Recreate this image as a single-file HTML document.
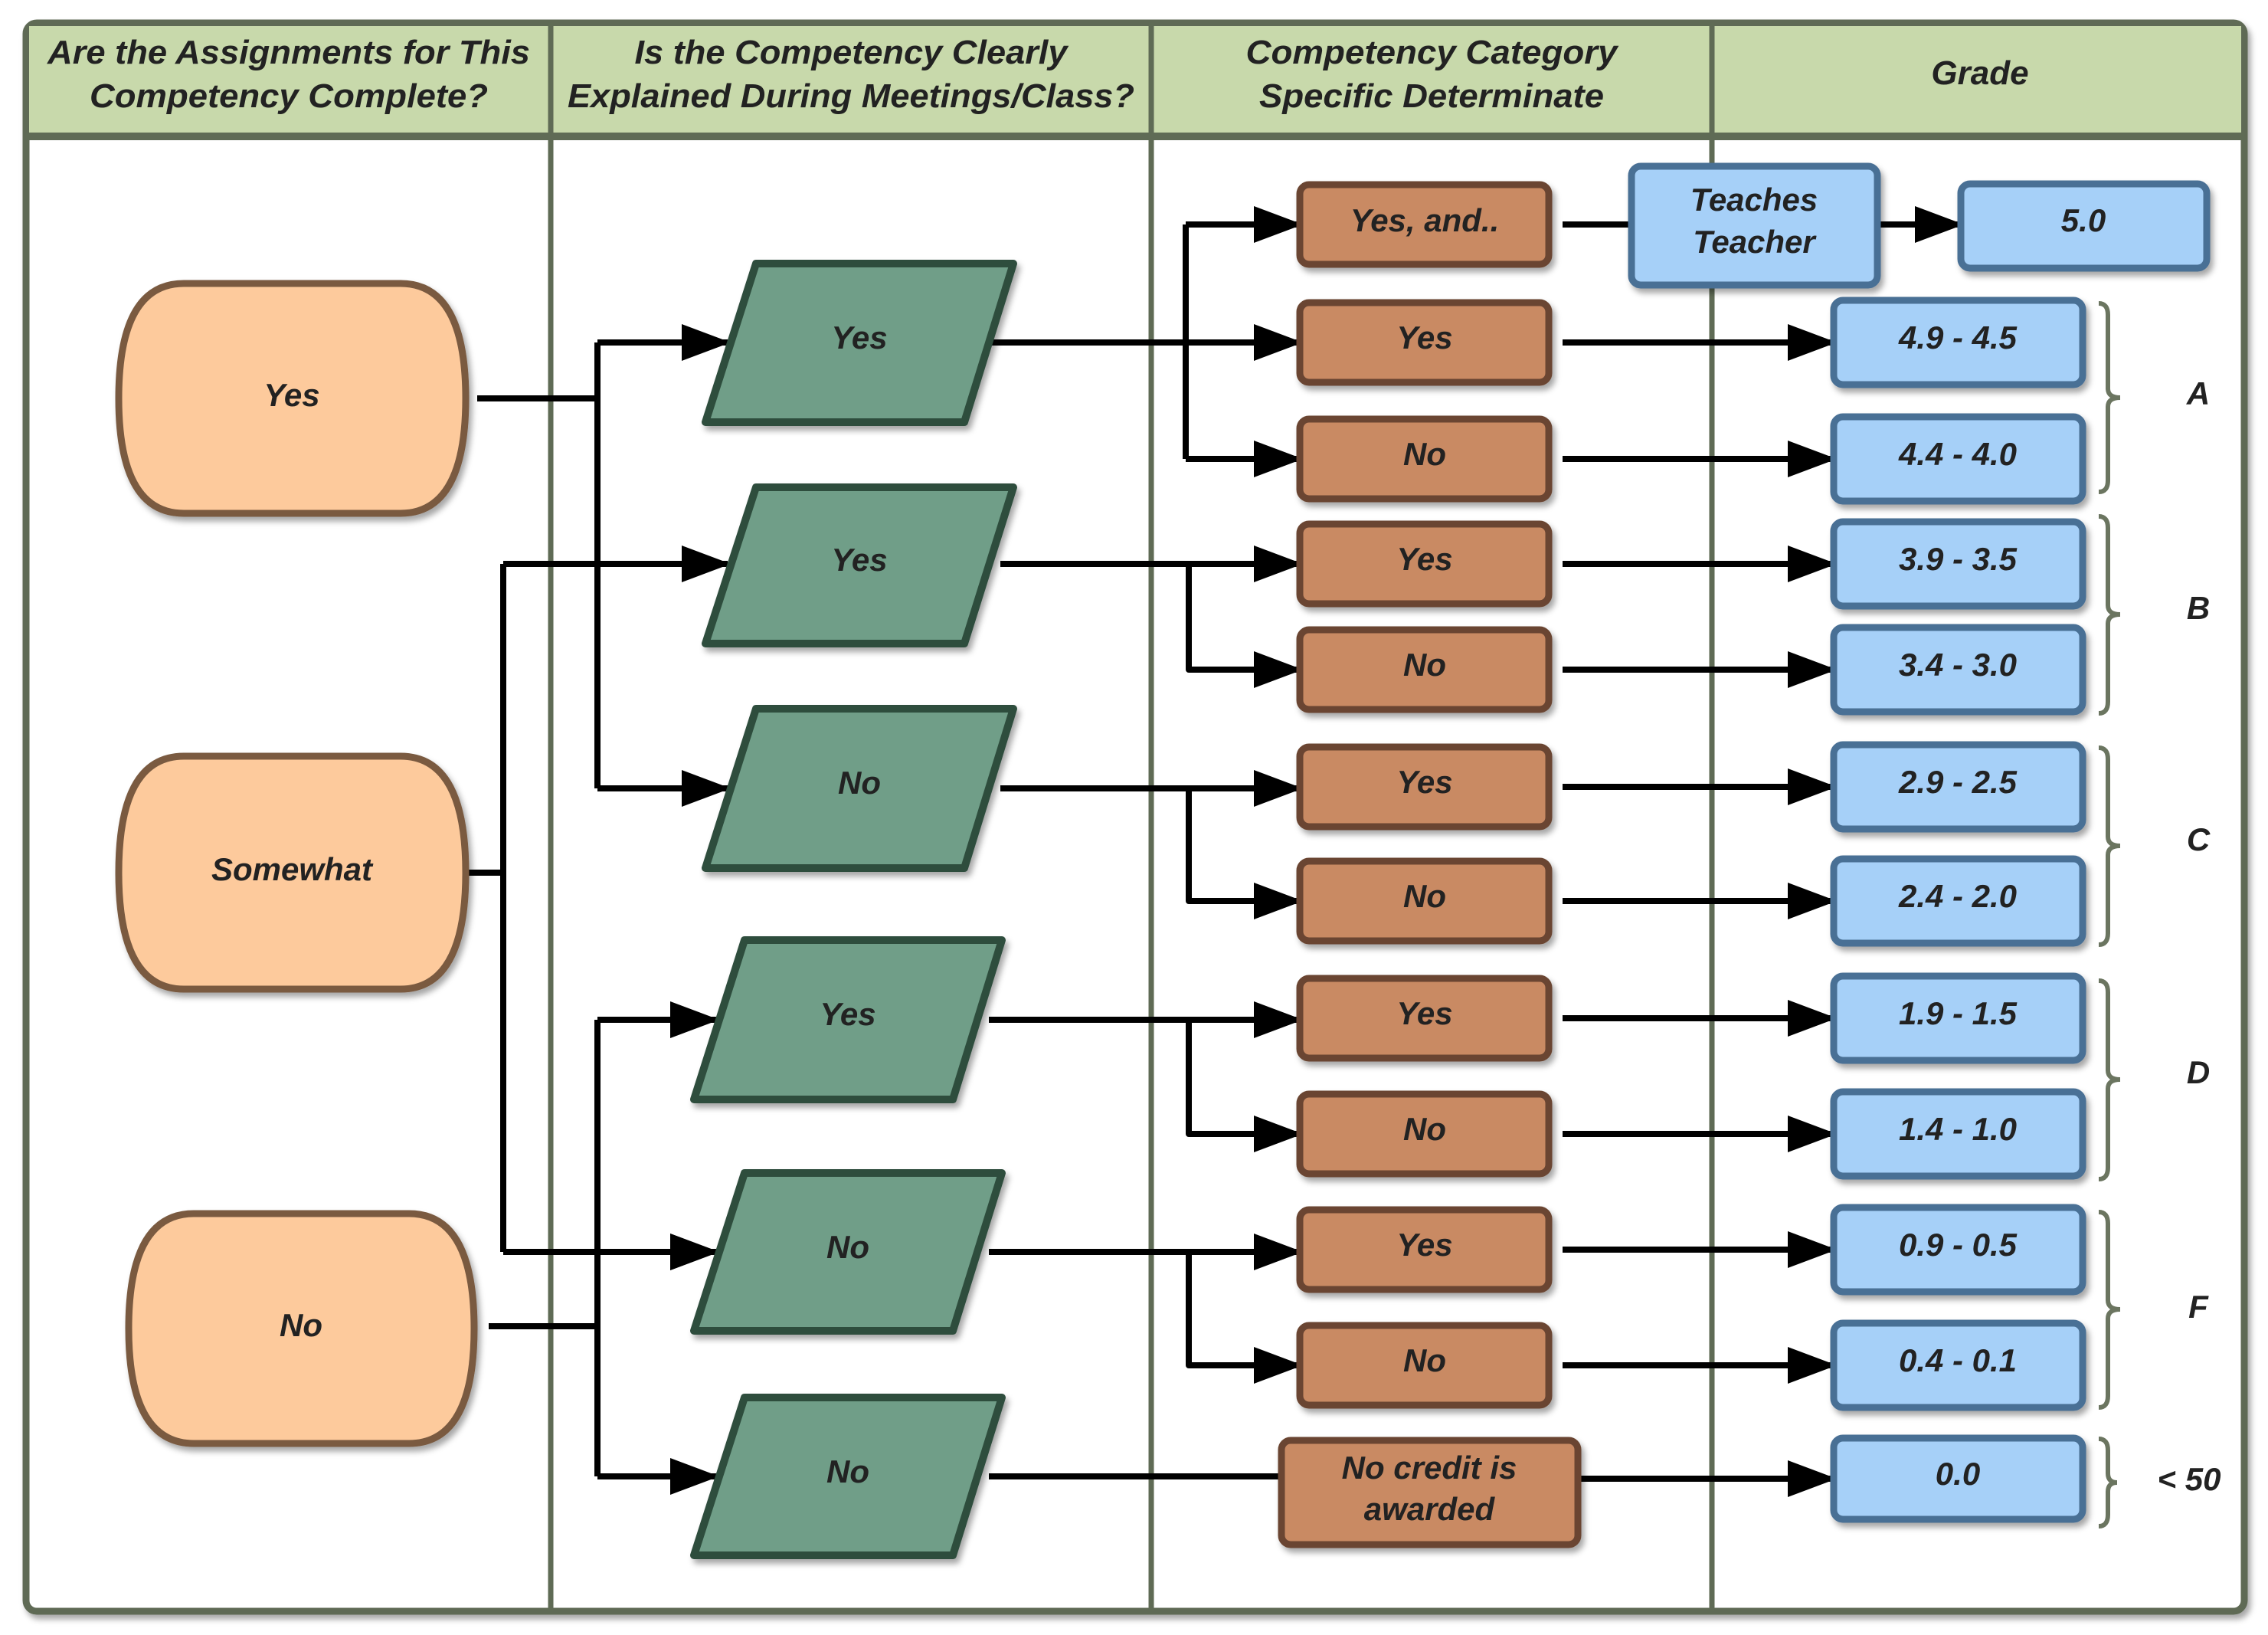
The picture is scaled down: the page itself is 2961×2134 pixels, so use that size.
<!DOCTYPE html>
<html><head><meta charset="utf-8"><style>
html,body{margin:0;padding:0;background:#fff;}
svg{display:block;}
text{font-family:"Liberation Sans",sans-serif;font-weight:bold;font-style:italic;fill:#222;}
</style></head><body>
<svg width="2961" height="2134" viewBox="0 0 2961 2134" xmlns="http://www.w3.org/2000/svg">
<defs>
<marker id="ah" markerWidth="8" markerHeight="6" refX="7.5" refY="3" orient="auto" markerUnits="strokeWidth">
<path d="M0,0 L8,3 L0,6 Z" fill="#000"/></marker>
<filter id="sh" x="-10%" y="-10%" width="130%" height="130%"><feDropShadow dx="4" dy="6" stdDeviation="4" flood-color="#000" flood-opacity="0.35"/></filter>
</defs>
<!-- frame -->
<rect x="34" y="30" width="2896" height="2073" rx="14" fill="#fff" stroke="#5f6b55" stroke-width="9" filter="url(#sh)"/>
<rect x="38" y="34" width="2888" height="142" fill="#c8d9ab"/>
<line x1="34" y1="178" x2="2930" y2="178" stroke="#5f6b55" stroke-width="10"/>
<line x1="719" y1="30" x2="719" y2="2103" stroke="#5f6b55" stroke-width="7"/>
<line x1="1503" y1="30" x2="1503" y2="2103" stroke="#5f6b55" stroke-width="7"/>
<line x1="2235" y1="30" x2="2235" y2="2103" stroke="#5f6b55" stroke-width="7"/>
<!-- headers -->
<g font-size="44" text-anchor="middle" style="fill:#333">
<text x="377" y="83" textLength="630" lengthAdjust="spacingAndGlyphs">Are the Assignments for This</text>
<text x="377" y="140" textLength="520" lengthAdjust="spacingAndGlyphs">Competency Complete?</text>
<text x="1111" y="83" textLength="565" lengthAdjust="spacingAndGlyphs">Is the Competency Clearly</text>
<text x="1111" y="140" textLength="740" lengthAdjust="spacingAndGlyphs">Explained During Meetings/Class?</text>
<text x="1869" y="83" textLength="485" lengthAdjust="spacingAndGlyphs">Competency Category</text>
<text x="1869" y="140" textLength="450" lengthAdjust="spacingAndGlyphs">Specific Determinate</text>
<text x="2585" y="110">Grade</text>
</g>
<!-- connectors -->
<g stroke="#000" stroke-width="8" fill="none" stroke-linejoin="round">
<path d="M623,520 H780"/><path d="M780,447 V1029"/>
<path d="M780,447 H950" marker-end="url(#ah)"/>
<path d="M657,736 H950" marker-end="url(#ah)"/>
<path d="M780,1029 H950" marker-end="url(#ah)"/>
<path d="M608,1139 H657"/><path d="M657,736 V1634"/>
<path d="M657,1634 H935" marker-end="url(#ah)"/>
<path d="M638,1731 H780"/><path d="M780,1331 V1927"/>
<path d="M780,1331 H935" marker-end="url(#ah)"/>
<path d="M780,1634 H935" marker-end="url(#ah)"/>
<path d="M780,1927 H935" marker-end="url(#ah)"/>
<path d="M1291,447 H1548"/><path d="M1548,293 V599"/>
<path d="M1548,293 H1697" marker-end="url(#ah)"/>
<path d="M1548,447 H1697" marker-end="url(#ah)"/>
<path d="M1548,599 H1697" marker-end="url(#ah)"/>
<path d="M1306,736 H1697" marker-end="url(#ah)"/><path d="M1552,736 V874 H1697" marker-end="url(#ah)"/>
<path d="M1306,1029 H1697" marker-end="url(#ah)"/><path d="M1552,1029 V1176 H1697" marker-end="url(#ah)"/>
<path d="M1291,1331 H1697" marker-end="url(#ah)"/><path d="M1552,1331 V1480 H1697" marker-end="url(#ah)"/>
<path d="M1291,1634 H1697" marker-end="url(#ah)"/><path d="M1552,1634 V1782 H1697" marker-end="url(#ah)"/>
<path d="M1291,1927 H1673"/>
<path d="M2040,293 H2130"/>
<path d="M2453,293 H2560" marker-end="url(#ah)"/>
<path d="M2040,447 H2394" marker-end="url(#ah)"/>
<path d="M2040,599 H2394" marker-end="url(#ah)"/>
<path d="M2040,736 H2394" marker-end="url(#ah)"/>
<path d="M2040,874 H2394" marker-end="url(#ah)"/>
<path d="M2040,1027 H2394" marker-end="url(#ah)"/>
<path d="M2040,1176 H2394" marker-end="url(#ah)"/>
<path d="M2040,1329 H2394" marker-end="url(#ah)"/>
<path d="M2040,1480 H2394" marker-end="url(#ah)"/>
<path d="M2040,1631 H2394" marker-end="url(#ah)"/>
<path d="M2040,1782 H2394" marker-end="url(#ah)"/>
<path d="M2060,1930 H2394" marker-end="url(#ah)"/>
</g>
<!-- ellipses -->
<g fill="#fdca9c" stroke="#7a5a40" stroke-width="9" filter="url(#sh)">
<path d="M240,370 H523 Q608,370 608,520 Q608,670 523,670 H240 Q155,670 155,520 Q155,370 240,370 Z"/>
<path d="M240,987 H523 Q608,987 608,1139 Q608,1291 523,1291 H240 Q155,1291 155,1139 Q155,987 240,987 Z"/>
<path d="M253,1584 H534 Q619,1584 619,1734 Q619,1884 534,1884 H253 Q168,1884 168,1734 Q168,1584 253,1584 Z"/>
</g>
<!-- parallelograms -->
<g fill="#6f9e88" stroke="#2f4d3e" stroke-width="10" stroke-linejoin="round" filter="url(#sh)">
<polygon points="987,344 1323,344 1259,551 921,551"/>
<polygon points="987,636 1323,636 1259,840 921,840"/>
<polygon points="987,925 1323,925 1259,1133 921,1133"/>
<polygon points="972,1227 1308,1227 1244,1435 906,1435"/>
<polygon points="972,1531 1308,1531 1244,1737 906,1737"/>
<polygon points="972,1824 1308,1824 1244,2030 906,2030"/>
</g>
<!-- brown boxes -->
<g fill="#c98a64" stroke="#6b4530" stroke-width="9" filter="url(#sh)">
<rect x="1697" y="241" width="325" height="104" rx="12"/>
<rect x="1697" y="395" width="325" height="104" rx="12"/>
<rect x="1697" y="547" width="325" height="104" rx="12"/>
<rect x="1697" y="684" width="325" height="104" rx="12"/>
<rect x="1697" y="822" width="325" height="104" rx="12"/>
<rect x="1697" y="975" width="325" height="104" rx="12"/>
<rect x="1697" y="1124" width="325" height="104" rx="12"/>
<rect x="1697" y="1277" width="325" height="104" rx="12"/>
<rect x="1697" y="1428" width="325" height="104" rx="12"/>
<rect x="1697" y="1579" width="325" height="104" rx="12"/>
<rect x="1697" y="1730" width="325" height="104" rx="12"/>
<rect x="1673" y="1880" width="387" height="136" rx="12"/>
</g>
<!-- blue boxes -->
<g fill="#a6d0f8" stroke="#4a6f95" stroke-width="9" filter="url(#sh)">
<rect x="2130" y="217" width="321" height="155" rx="12"/>
<rect x="2560" y="240" width="321" height="110" rx="12"/>
<rect x="2394" y="392" width="325" height="110" rx="12"/>
<rect x="2394" y="544" width="325" height="110" rx="12"/>
<rect x="2394" y="681" width="325" height="110" rx="12"/>
<rect x="2394" y="819" width="325" height="110" rx="12"/>
<rect x="2394" y="972" width="325" height="110" rx="12"/>
<rect x="2394" y="1121" width="325" height="110" rx="12"/>
<rect x="2394" y="1274" width="325" height="110" rx="12"/>
<rect x="2394" y="1425" width="325" height="110" rx="12"/>
<rect x="2394" y="1576" width="325" height="110" rx="12"/>
<rect x="2394" y="1727" width="325" height="110" rx="12"/>
<rect x="2394" y="1877" width="325" height="106" rx="12"/>
</g>
<!-- braces -->
<g fill="none" stroke="#6b7560" stroke-width="6">
<path d="M2740,396 Q2752,396 2752,411 V507 Q2752,519 2768,519 Q2752,519 2752,531 V627 Q2752,642 2740,642"/>
<path d="M2740,674 Q2752,674 2752,689 V790 Q2752,802 2768,802 Q2752,802 2752,814 V916 Q2752,931 2740,931"/>
<path d="M2740,976 Q2752,976 2752,991 V1092 Q2752,1104 2768,1104 Q2752,1104 2752,1116 V1218 Q2752,1233 2740,1233"/>
<path d="M2740,1280 Q2752,1280 2752,1295 V1397 Q2752,1409 2768,1409 Q2752,1409 2752,1421 V1524 Q2752,1539 2740,1539"/>
<path d="M2740,1582 Q2752,1582 2752,1597 V1697 Q2752,1709 2768,1709 Q2752,1709 2752,1721 V1822 Q2752,1837 2740,1837"/>
<path d="M2740,1878 Q2752,1878 2752,1893 V1923 Q2752,1935 2764,1935 Q2752,1935 2752,1947 V1977 Q2752,1992 2740,1992"/>
</g>
<!-- node labels -->
<g font-size="42" text-anchor="middle">
<text x="381" y="530">Yes</text>
<text x="381" y="1149">Somewhat</text>
<text x="393" y="1744">No</text>
<text x="1122" y="455">Yes</text>
<text x="1122" y="745">Yes</text>
<text x="1122" y="1036">No</text>
<text x="1107" y="1338">Yes</text>
<text x="1107" y="1642">No</text>
<text x="1107" y="1935">No</text>
<text x="1860" y="302">Yes, and..</text>
<text x="1860" y="455">Yes</text>
<text x="1860" y="607">No</text>
<text x="1860" y="744">Yes</text>
<text x="1860" y="882">No</text>
<text x="1860" y="1035">Yes</text>
<text x="1860" y="1184">No</text>
<text x="1860" y="1337">Yes</text>
<text x="1860" y="1488">No</text>
<text x="1860" y="1639">Yes</text>
<text x="1860" y="1790">No</text>
<text x="1866" y="1930">No credit is</text>
<text x="1866" y="1984">awarded</text>
<text x="2290" y="275">Teaches</text>
<text x="2290" y="330">Teacher</text>
<text x="2720" y="302">5.0</text>
<text x="2556" y="455">4.9 - 4.5</text>
<text x="2556" y="607">4.4 - 4.0</text>
<text x="2556" y="744">3.9 - 3.5</text>
<text x="2556" y="882">3.4 - 3.0</text>
<text x="2556" y="1035">2.9 - 2.5</text>
<text x="2556" y="1184">2.4 - 2.0</text>
<text x="2556" y="1337">1.9 - 1.5</text>
<text x="2556" y="1488">1.4 - 1.0</text>
<text x="2556" y="1639">0.9 - 0.5</text>
<text x="2556" y="1790">0.4 - 0.1</text>
<text x="2556" y="1938">0.0</text>
<text x="2870" y="528">A</text>
<text x="2870" y="808">B</text>
<text x="2870" y="1110">C</text>
<text x="2870" y="1414">D</text>
<text x="2870" y="1720">F</text>
<text x="2858" y="1945">&lt; 50</text>
</g>
</svg>
</body></html>
